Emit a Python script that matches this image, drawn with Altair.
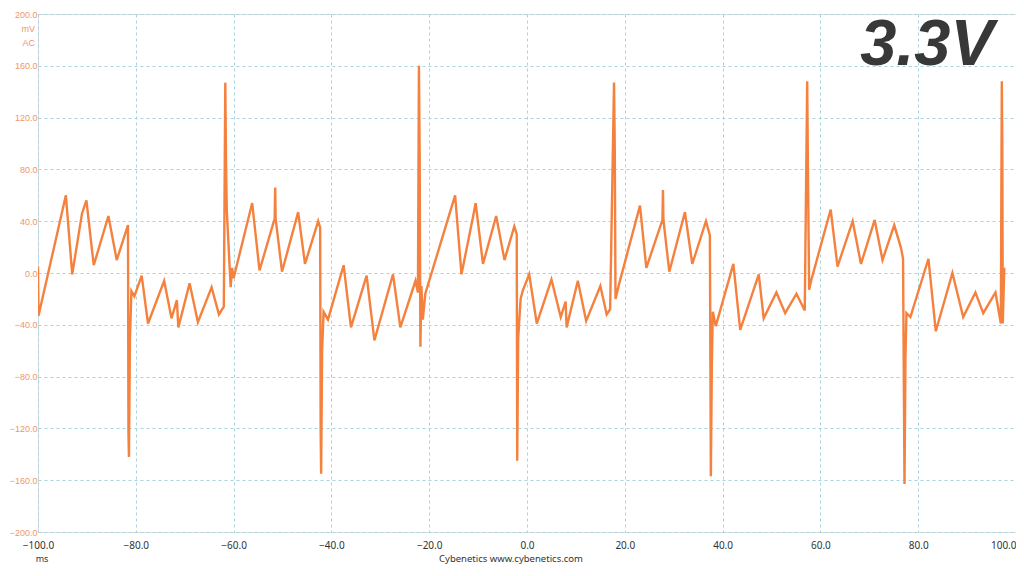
import altair as alt
import pandas as pd

# time (ms) and ripple (mV)
t_ms = [
    -100.0, -99.9, -94.3, -93.0, -91.0, -90.1, -88.6, -85.6, -83.9, -81.6,
    -81.5, -81.4, -81.2, -80.9, -80.3, -78.8, -77.5, -74.2, -72.7, -71.6,
    -71.3, -69.0, -67.3, -64.5, -63.0, -62.0, -61.7, -61.55, -61.4, -60.6,
    -60.3, -60.0, -56.2, -54.7, -51.6, -51.5, -51.4, -50.1, -46.8, -45.4,
    -42.7, -42.3, -42.2, -42.1, -41.9, -41.6, -40.7, -37.5, -36.0, -32.8,
    -31.2, -27.4, -25.9, -22.8, -22.3, -22.1, -21.95, -21.8, -21.6, -21.3,
    -20.8, -14.7, -13.4, -11.0, -10.5, -9.0, -6.3, -4.6, -2.6, -2.1,
    -2.0, -1.8, -1.3, -0.9, 0.45, 2.0, 5.0, 6.9, 7.9, 8.1,
    10.4, 12.1, 15.0, 16.3, 17.0, 17.8, 17.95, 18.1, 18.8, 23.1,
    24.4, 27.7, 27.8, 27.9, 29.1, 32.3, 33.8, 36.6, 37.4, 37.6,
    37.8, 38.0, 38.6, 42.2, 43.6, 47.4, 48.4, 51.0, 52.8, 55.1,
    56.8, 57.3, 57.45, 57.7, 58.1, 62.1, 63.5, 66.6, 68.3, 71.1,
    72.7, 75.1, 76.5, 76.9, 77.2, 77.4, 77.6, 78.4, 82.1, 83.6,
    87.0, 89.2, 91.7, 93.3, 95.8, 96.9, 97.1, 97.2, 97.3, 97.6,
]
v_mv = [
    5, -33, 60, -1, 46, 56, 6, 44, 10, 37,
    -124, -142, -51, -14, -18, -2, -39, -6, -35, -21,
    -42, -8, -38, -11, -32, -26, 147, 86, 49, -11,
    4, -4, 54, 2, 42, 66, 42, 1, 47, 7,
    40, 35, -120, -155, -60, -30, -36, 6, -42, -2,
    -52, -1, -42, -6, -15, 160, 90, -57, -10, -36,
    -16, 60, -1, 44, 54, 7, 44, 10, 36, 30,
    -145, -50, -20, -14, -1, -39, -5, -34, -22, -42,
    -6, -37, -10, -32, -28, 147, 95, -20, -9, 52,
    4, 41, 64, 41, 1, 47, 7, 40, 29, -157,
    -70, -30, -41, 7, -44, -1, -35, -15, -31, -16,
    -29, 148, 80, -13, -6, 49, 5, 40, 7, 41,
    10, 37, 19, 11, -163, -64, -31, -34, 11, -45,
    0, -34, -15, -31, -15, -39, 148, 99, -39, 4,
]

x_ticks = [-100, -80, -60, -40, -20, 0, 20, 40, 60, 80, 100]
y_ticks = [-200, -160, -120, -80, -40, 0, 40, 80, 120, 160, 200]

df = pd.DataFrame({"t": t_ms, "v": v_mv, "i": list(range(len(t_ms)))})

W, H = 978, 518
GRID = "#a9d4df"
YCOL = "#f0956a"

xscale = alt.Scale(domain=[-100, 100], nice=False, zero=False)
yscale = alt.Scale(domain=[-200, 200], nice=False, zero=False)

line = alt.Chart(df).mark_line(color="#f5813f", strokeWidth=2.4, clip=True).encode(
    x=alt.X("t:Q", scale=xscale,
            axis=alt.Axis(values=x_ticks, format=".1f", title=None, grid=True,
                          gridColor=GRID, gridDash=[3, 3], gridWidth=1,
                          domain=False, ticks=False, labelFontSize=10,
                          labelColor="#333333", labelPadding=8,
                          labelFont="Noto Sans",
                          labelAlign={"condition": {"test": "datum.value == 100", "value": "right"},
                                      "value": "center"})),
    y=alt.Y("v:Q", scale=yscale,
            axis=alt.Axis(values=y_ticks, format=".1f", title=None, grid=True,
                          gridColor=GRID, gridDash=[3, 3], gridWidth=1,
                          domain=False, ticks=False, labelFontSize=9,
                          labelColor=YCOL, labelPadding=1,
                          labelFont="Liberation Sans")),
    order="i:Q",
)

badge = alt.Chart(pd.DataFrame({"x": [81.8], "y": [160.5], "s": ["3.3V"]})).mark_text(
    font="Liberation Sans", fontSize=65, fontWeight="bold", fontStyle="italic",
    color="#383838", align="center", baseline="alphabetic",
).encode(x=alt.X("x:Q", scale=xscale), y=alt.Y("y:Q", scale=yscale), text="s:N")

units = alt.Chart(pd.DataFrame({"s": ["mV", "AC"], "yy": [15, 29]})).mark_text(
    font="Liberation Sans", fontSize=9, color=YCOL, align="right", baseline="middle",
).encode(x=alt.value(-3), y=alt.Y("yy:Q", scale=None), text="s:N")

ms = alt.Chart(pd.DataFrame({"s": ["ms"]})).mark_text(
    font="Noto Sans", fontSize=9, color="#333333", align="center", baseline="middle",
).encode(x=alt.value(4), y=alt.value(H + 27), text="s:N")

footer = alt.Chart(pd.DataFrame({"s": ["Cybenetics   www.cybenetics.com"]})).mark_text(
    font="Noto Sans", fontSize=9.5, color="#333333", align="center", baseline="middle",
).encode(x=alt.value(473), y=alt.value(H + 27), text="s:N")

chart = alt.layer(line, badge, units, ms, footer).properties(
    width=W, height=H,
    autosize=alt.AutoSizeParams(type="none"),
    padding={"left": 30, "top": 6, "right": 0, "bottom": 36},
).configure_view(stroke=None).configure(background="white")

chart.save("out.html", embed_options={"renderer": "svg", "actions": False})
